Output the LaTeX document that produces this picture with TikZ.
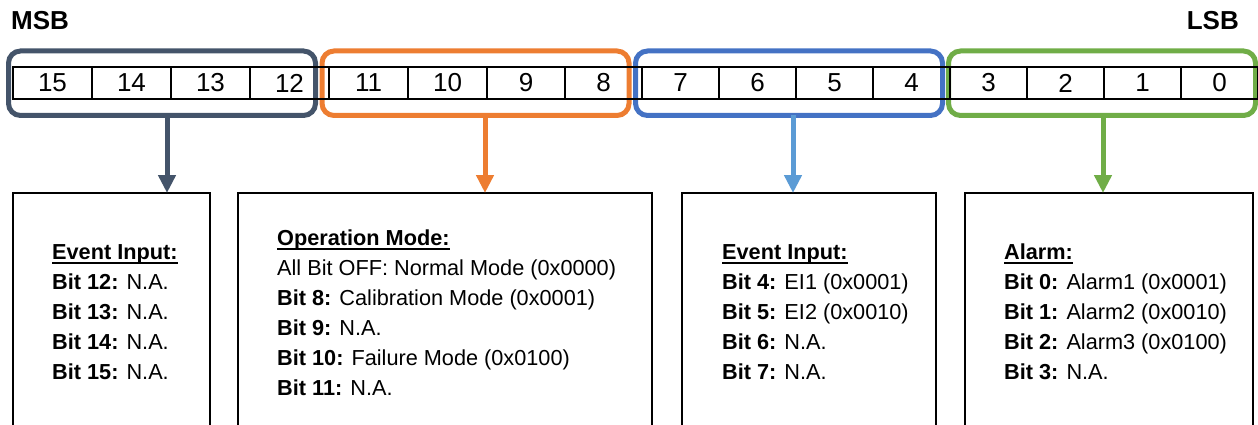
\documentclass[tikz,border=0pt]{standalone}
\usepackage{fontspec}
\setmainfont{Liberation Sans}
\usepackage{xcolor}
\usepackage{tikz}
\usetikzlibrary{arrows.meta,positioning}

\definecolor{grpslate}{HTML}{44546A}
\definecolor{grporange}{HTML}{ED7D31}
\definecolor{grpblue}{HTML}{4472C4}
\definecolor{arrblue}{HTML}{5B9BD5}
\definecolor{grpgreen}{HTML}{70AD47}

\newsavebox{\hdbox}
\newcommand{\hdline}[1]{\sbox{\hdbox}{\textbf{#1}}\rlap{\rule[-5pt]{\wd\hdbox}{1.8pt}}\usebox{\hdbox}}

\begin{document}
\begin{tikzpicture}[
    x=1pt, y=-1pt,
    bitcell/.style={draw, line width=1.6pt, minimum height=32pt, inner sep=0pt, font=\fontsize{26pt}{30pt}\selectfont},
    grpbox/.style={draw, line width=5pt, rounded corners=12pt, minimum width=307pt, minimum height=64.5pt, inner sep=0pt, outer sep=0pt},
    descbox/.style={draw, line width=2pt, anchor=north west, minimum height=280pt, inner sep=0pt, outer sep=0pt},
    desctext/.style={anchor=base west, align=left, inner sep=0pt, font=\fontsize{21.7pt}{30pt}\selectfont},
    flowarrow/.style={line width=5pt, -{Triangle[width=17pt,length=18pt]}},
    sigbit/.style={inner sep=0pt, font=\fontsize{26pt}{30pt}\selectfont\bfseries}
]
\useasboundingbox (0,0) rectangle (1258,425);
\clip (0,0) rectangle (1258,425);

% MSB / LSB
\node[sigbit, anchor=west] (msb) at (11,21) {MSB};
\node[sigbit, anchor=east] (lsb) at (1239,21) {LSB};

% group frames
\node[grpbox, draw=grpslate] (g15) at (162,83.25) {};
\node[grpbox, draw=grporange] (g11) at (475.5,83.25) {};
\node[grpbox, draw=grpblue] (g7) at (789,83.25) {};
\node[grpbox, draw=grpgreen] (g3) at (1102,83.25) {};

% register cells
\foreach \b/\xl/\xr in {15/13/92, 14/92/171, 13/171/250, 12/250/329,
                        11/329/408, 10/408/487, 9/487/565, 8/565/642,
                        7/642/719, 6/719/796, 5/796/873, 4/873/950,
                        3/950/1027, 2/1027/1104, 1/1104/1181, 0/1181/1258}
    \node[bitcell, minimum width={(\xr-\xl)*1pt}] (b\b) at ({(\xl+\xr)/2},83) {\b};

% description boxes
\node[descbox, minimum width=197pt] (d15) at (13,193) {};
\node[descbox, minimum width=414pt] (d11) at (238,193) {};
\node[descbox, minimum width=254pt] (d7) at (682,193) {};
\node[descbox, minimum width=288pt] (d3) at (965,193) {};

% texts (anchored at the baseline of the last line)
\node[desctext] (t15) at (52,379) {\hdline{Event Input:}\\
    \textbf{Bit 12:} N.A.\\
    \textbf{Bit 13:} N.A.\\
    \textbf{Bit 14:} N.A.\\
    \textbf{Bit 15:} N.A.};
\node[desctext] (t11) at (277,395) {\hdline{Operation Mode:}\\
    All Bit OFF: Normal Mode (0x0000)\\
    \textbf{Bit 8:} Calibration Mode (0x0001)\\
    \textbf{Bit 9:} N.A.\\
    \textbf{Bit 10:} Failure Mode (0x0100)\\
    \textbf{Bit 11:} N.A.};
\node[desctext] (t7) at (722,379) {\hdline{Event Input:}\\
    \textbf{Bit 4:} EI1 (0x0001)\\
    \textbf{Bit 5:} EI2 (0x0010)\\
    \textbf{Bit 6:} N.A.\\
    \textbf{Bit 7:} N.A.};
\node[desctext] (t3) at (1004,379) {\hdline{Alarm:}\\
    \textbf{Bit 0:} Alarm1 (0x0001)\\
    \textbf{Bit 1:} Alarm2 (0x0010)\\
    \textbf{Bit 2:} Alarm3 (0x0100)\\
    \textbf{Bit 3:} N.A.};

% arrows
\coordinate (a15) at (167,0);
\coordinate (a11) at (485,0);
\coordinate (a7) at (793,0);
\coordinate (a3) at (1103,0);
\draw[flowarrow, grpslate] (g15.south -| a15) -- (d15.north -| a15);
\draw[flowarrow, grporange] (g11.south -| a11) -- (d11.north -| a11);
\draw[flowarrow, arrblue] (g7.south -| a7) -- (d7.north -| a7);
\draw[flowarrow, grpgreen] (g3.south -| a3) -- (d3.north -| a3);
\end{tikzpicture}
\end{document}
